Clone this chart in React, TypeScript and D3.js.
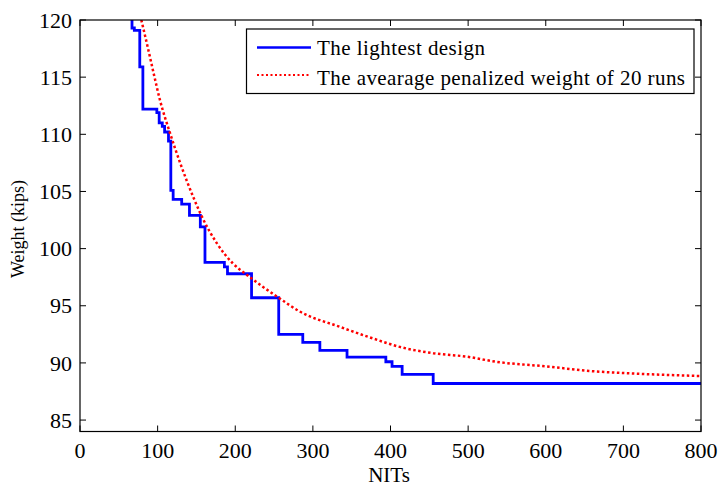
import React, { useRef, useEffect } from 'react';
import * as d3 from 'd3';

// NITs at which the lightest design steps down, and its weight from there on
const lightestNits = [66, 67, 70, 77, 81, 99, 102, 106, 109, 114, 117, 120, 131, 141, 155, 161, 186, 190, 221, 256, 287, 309, 344, 394, 402, 415, 455, 800];
const lightestWeight = [120.5, 119.3, 119.1, 115.9, 112.2, 111.9, 111.0, 110.7, 110.2, 109.4, 105.1, 104.3, 103.9, 102.9, 101.9, 98.8, 98.4, 97.8, 95.7, 92.5, 91.8, 91.1, 90.5, 90.1, 89.7, 89.0, 88.2, 88.2];

// average penalized weight of 20 runs
const avgNits = [79, 88, 96, 103, 116, 129, 146, 157, 176, 197, 215, 256, 283, 335, 377, 412, 455, 498, 536, 600, 656, 720, 800];
const avgWeight = [120, 117.4, 115, 113, 110.1, 107.5, 104.5, 102.8, 100.5, 98.7, 97.7, 95.7, 94.5, 93.15, 92.15, 91.4, 90.85, 90.55, 90.1, 89.7, 89.3, 89.05, 88.85];

const xTicks = [0, 100, 200, 300, 400, 500, 600, 700, 800];
const yTicks = [85, 90, 95, 100, 105, 110, 115, 120];

const legendLabels = ['The lightest design', 'The avearage penalized weight of 20 runs'];

const App = () => {
  const chartRef = useRef<SVGSVGElement | null>(null);

  useEffect(() => {
    const svgWidth = 721;
    const svgHeight = 486;
    const margin = { top: 20, right: 20, bottom: 54.5, left: 80 };
    const width = 701 - margin.left;
    const height = 431.5 - margin.top;
    const font = '"Liberation Serif", "Times New Roman", serif';

    const root = d3.select(chartRef.current);
    root.selectAll('*').remove();
    root.attr('width', svgWidth).attr('height', svgHeight);

    const svg = root.append('g')
      .attr('transform', `translate(${margin.left},${margin.top})`);

    const xScale = d3.scaleLinear().domain([0, 800]).range([0, width]);
    const yScale = d3.scaleLinear().domain([84, 120]).range([height, 0]);

    svg.append('clipPath').attr('id', 'plot-clip')
      .append('rect').attr('width', width).attr('height', height);

    const lightest = lightestNits.map((n, i) => [n, lightestWeight[i]] as [number, number]);
    const average = avgNits.map((n, i) => [n, avgWeight[i]] as [number, number]);

    const stepLine = d3.line<[number, number]>()
      .x(d => xScale(d[0]))
      .y(d => yScale(d[1]))
      .curve(d3.curveStepAfter);

    const smoothLine = d3.line<[number, number]>()
      .x(d => xScale(d[0]))
      .y(d => yScale(d[1]))
      .curve(d3.curveMonotoneX);

    const lines = svg.append('g').attr('clip-path', 'url(#plot-clip)');

    lines.append('path')
      .datum(lightest)
      .attr('d', stepLine)
      .attr('fill', 'none')
      .attr('stroke', '#0000ff')
      .attr('stroke-width', 2.8);

    lines.append('path')
      .datum(average)
      .attr('d', smoothLine)
      .attr('fill', 'none')
      .attr('stroke', '#ff0000')
      .attr('stroke-width', 2.5)
      .attr('stroke-dasharray', '2.5 2.5');

    // box
    svg.append('rect')
      .attr('width', width)
      .attr('height', height)
      .attr('fill', 'none')
      .attr('stroke', '#000')
      .attr('stroke-width', 1.2);

    const tickLen = 6;

    // x ticks, inward on bottom and top
    xTicks.forEach(t => {
      const x = xScale(t);
      svg.append('line').attr('x1', x).attr('x2', x).attr('y1', height).attr('y2', height - tickLen).attr('stroke', '#000');
      svg.append('line').attr('x1', x).attr('x2', x).attr('y1', 0).attr('y2', tickLen).attr('stroke', '#000');
      svg.append('text')
        .attr('x', x)
        .attr('y', height + 26)
        .attr('text-anchor', 'middle')
        .attr('font-family', font)
        .attr('font-size', 22)
        .attr('fill', '#000')
        .text(t);
    });

    // y ticks, inward on left and right
    yTicks.forEach(t => {
      const y = yScale(t);
      svg.append('line').attr('x1', 0).attr('x2', tickLen).attr('y1', y).attr('y2', y).attr('stroke', '#000');
      svg.append('line').attr('x1', width).attr('x2', width - tickLen).attr('y1', y).attr('y2', y).attr('stroke', '#000');
      svg.append('text')
        .attr('x', -8)
        .attr('y', y)
        .attr('dy', '0.35em')
        .attr('text-anchor', 'end')
        .attr('font-family', font)
        .attr('font-size', 22)
        .attr('fill', '#000')
        .text(t);
    });

    // axis labels
    root.append('text')
      .attr('x', 389)
      .attr('y', 482)
      .attr('text-anchor', 'middle')
      .attr('font-family', font)
      .attr('font-size', 21)
      .text('NITs');

    root.append('text')
      .attr('transform', 'translate(24,229) rotate(-90)')
      .attr('text-anchor', 'middle')
      .attr('font-family', font)
      .attr('font-size', 18)
      .text('Weight (kips)');

    // legend
    const legend = root.append('g');
    legend.append('rect')
      .attr('x', 246.5)
      .attr('y', 29)
      .attr('width', 447.5)
      .attr('height', 64.5)
      .attr('fill', '#fff')
      .attr('stroke', '#000')
      .attr('stroke-width', 1.2);

    legend.append('line')
      .attr('x1', 257).attr('x2', 311).attr('y1', 47.5).attr('y2', 47.5)
      .attr('stroke', '#0000ff').attr('stroke-width', 2.5);
    legend.append('line')
      .attr('x1', 257).attr('x2', 311).attr('y1', 75).attr('y2', 75)
      .attr('stroke', '#ff0000').attr('stroke-width', 2).attr('stroke-dasharray', '2 2.5');

    const legendLengths = [168, 368];
    legendLabels.forEach((label, i) => {
      legend.append('text')
        .attr('x', 317)
        .attr('y', 55 + i * 30)
        .attr('font-family', font)
        .attr('font-size', 21)
        .attr('textLength', legendLengths[i])
        .attr('lengthAdjust', 'spacing')
        .text(label);
    });
  }, []);

  return (
    <svg ref={chartRef} style={{ position: 'absolute', left: 0, top: 0, background: '#fff' }}></svg>
  );
};

export default App;
